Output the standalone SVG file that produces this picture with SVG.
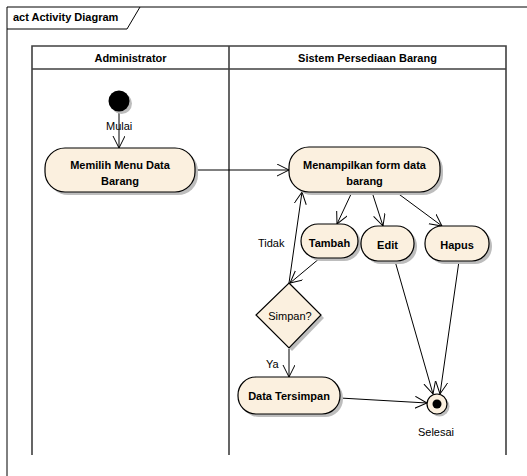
<svg xmlns="http://www.w3.org/2000/svg" width="527" height="476" viewBox="0 0 527 476">
<defs>
<style>
.t{font-family:"Liberation Sans",Arial,sans-serif;font-size:11px;fill:#000}
.b{font-weight:bold}
.act{fill:#FBF0DF;stroke:#000;stroke-width:1.2}
.sh{fill:#BDBDBD}
.lane{fill:none;stroke:#404040;stroke-width:1.6}
.c{fill:none;stroke:#000;stroke-width:1}
</style>
<marker id="ah" markerWidth="14" markerHeight="14" refX="12" refY="6" orient="auto" markerUnits="userSpaceOnUse">
<path d="M0,0 L12,6 L0,12" fill="none" stroke="#000" stroke-width="1"/>
</marker>
</defs>
<rect width="527" height="476" fill="#fff"/>
<g id="frame">
<path d="M7,476 L7,7 L527,7" fill="none" stroke="#000" stroke-width="1"/>
<path d="M7,29 L127,29 L140,7" fill="none" stroke="#000" stroke-width="1"/>
<text class="t b" x="13" y="21">act Activity Diagram</text>
</g>
<g id="lanes">
<path class="lane" d="M32,455 L32,46 L506,46 L506,455 M229,46 L229,455 M32,69 L506,69"/>
<text class="t b" x="130.5" y="62" text-anchor="middle">Administrator</text>
<text class="t b" x="367.5" y="62" text-anchor="middle">Sistem Persediaan Barang</text>
</g>
<g id="connectors">
<line class="c" x1="119" y1="111" x2="119" y2="148" marker-end="url(#ah)"/>
<line class="c" x1="195" y1="170" x2="289" y2="170" marker-end="url(#ah)"/>
<line class="c" x1="352" y1="192" x2="337" y2="224" marker-end="url(#ah)"/>
<line class="c" x1="372" y1="192" x2="383" y2="226" marker-end="url(#ah)"/>
<line class="c" x1="396" y1="192" x2="442" y2="226" marker-end="url(#ah)"/>
<line class="c" x1="320" y1="258" x2="290" y2="283" marker-end="url(#ah)"/>
<line class="c" x1="289" y1="283" x2="302" y2="192" marker-end="url(#ah)"/>
<line class="c" x1="289" y1="349" x2="289" y2="377" marker-end="url(#ah)"/>
<line class="c" x1="395" y1="261" x2="433" y2="394" marker-end="url(#ah)"/>
<line class="c" x1="459" y1="261" x2="440" y2="394" marker-end="url(#ah)"/>
<line class="c" x1="340" y1="398" x2="427" y2="403" marker-end="url(#ah)"/>
<text class="t" x="106" y="130">Mulai</text>
<text class="t" x="258" y="247">Tidak</text>
<text class="t" x="266" y="368">Ya</text>
</g>
<g id="start">
<circle class="sh" cx="121.5" cy="103.5" r="10.5"/>
<circle cx="119" cy="101" r="10.5" fill="#000"/>
</g>
<g id="memilih">
<rect class="sh" x="48" y="151" width="150" height="44" rx="20"/>
<rect class="act" x="45" y="148" width="150" height="44" rx="20"/>
<text class="t b" x="120" y="169" text-anchor="middle">Memilih Menu Data</text>
<text class="t b" x="120" y="185" text-anchor="middle">Barang</text>
</g>
<g id="menampilkan">
<rect class="sh" x="292" y="150" width="151" height="45" rx="20"/>
<rect class="act" x="289" y="147" width="151" height="45" rx="20"/>
<text class="t b" x="364.5" y="169" text-anchor="middle">Menampilkan form data</text>
<text class="t b" x="364.5" y="185" text-anchor="middle">barang</text>
</g>
<g id="tambah">
<rect class="sh" x="304" y="227" width="57" height="34" rx="17"/>
<rect class="act" x="301" y="224" width="57" height="34" rx="17"/>
<text class="t b" x="329.5" y="247" text-anchor="middle">Tambah</text>
</g>
<g id="edit">
<rect class="sh" x="364" y="229" width="53" height="35" rx="17"/>
<rect class="act" x="361" y="226" width="53" height="35" rx="17"/>
<text class="t b" x="387.5" y="249" text-anchor="middle">Edit</text>
</g>
<g id="hapus">
<rect class="sh" x="428" y="229" width="64" height="35" rx="17"/>
<rect class="act" x="425" y="226" width="64" height="35" rx="17"/>
<text class="t b" x="457" y="249" text-anchor="middle">Hapus</text>
</g>
<g id="simpan">
<path class="sh" d="M292,286 L324,318 L292,351 L259,318 Z"/>
<path class="act" d="M289,283 L321,315 L289,348 L256,315 Z"/>
<text class="t" x="290" y="320" text-anchor="middle">Simpan?</text>
</g>
<g id="tersimpan">
<rect class="sh" x="241" y="380" width="102" height="37" rx="18"/>
<rect class="act" x="238" y="377" width="102" height="37" rx="18"/>
<text class="t b" x="289" y="400" text-anchor="middle">Data Tersimpan</text>
</g>
<g id="selesai">
<circle class="sh" cx="439.5" cy="406.5" r="10"/>
<circle cx="437" cy="404" r="10" fill="#FBF0DF" stroke="#000" stroke-width="1.2"/>
<circle cx="437" cy="404" r="4.5" fill="#000"/>
<text class="t" x="436" y="436" text-anchor="middle">Selesai</text>
</g>
</svg>
